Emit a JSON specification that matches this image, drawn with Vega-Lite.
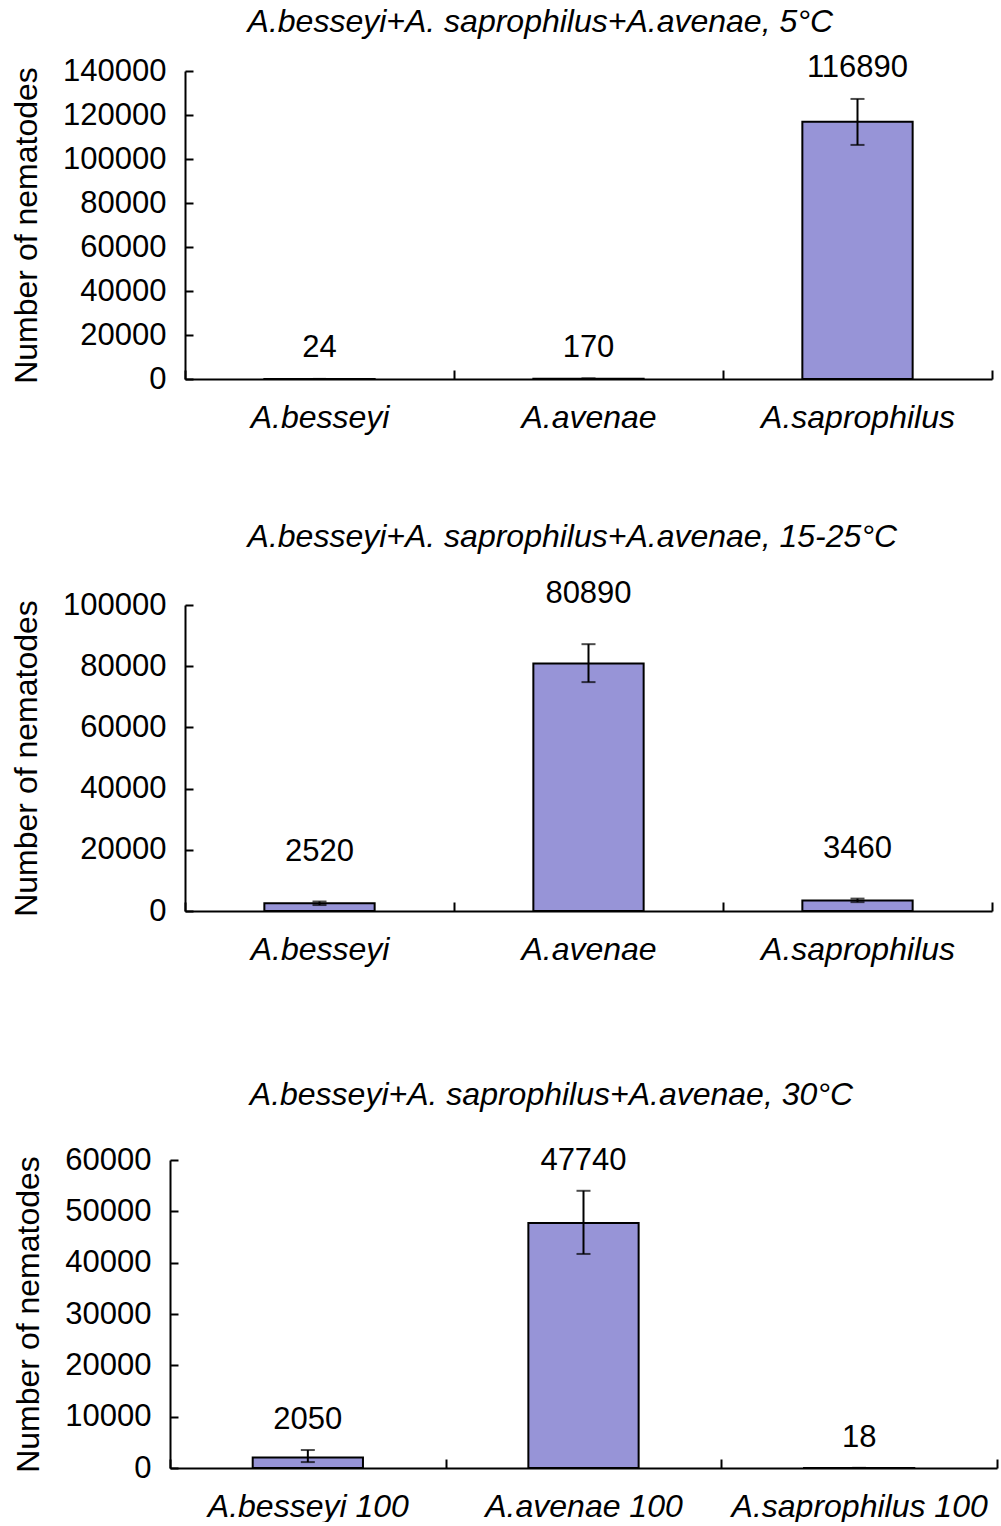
{
  "$schema": "https://vega.github.io/schema/vega-lite/v6.json",
  "background": "white",
  "padding": {"left": 10, "top": 5, "right": 2, "bottom": 0},
  "columns": 1,
  "align": "none",
  "spacing": 88,
  "datasets": {
    "t5": [
      {"species": "A.besseyi", "value": 24, "lo": 24, "hi": 24},
      {"species": "A.avenae", "value": 170, "lo": 170, "hi": 170},
      {"species": "A.saprophilus", "value": 116890, "lo": 106400, "hi": 127300}
    ],
    "t15": [
      {"species": "A.besseyi", "value": 2520, "lo": 1950, "hi": 3100},
      {"species": "A.avenae", "value": 80890, "lo": 74800, "hi": 87200},
      {"species": "A.saprophilus", "value": 3460, "lo": 2900, "hi": 4050}
    ],
    "t30": [
      {"species": "A.besseyi 100", "value": 2050, "lo": 1150, "hi": 3500},
      {"species": "A.avenae 100", "value": 47740, "lo": 41700, "hi": 54000},
      {"species": "A.saprophilus 100", "value": 18, "lo": 18, "hi": 18}
    ]
  },
  "concat": [
    {
      "data": {"name": "t5"},
      "width": 822,
      "height": 308,
      "title": {"text": "A.besseyi+A. saprophilus+A.avenae, 5°C", "offset": 13, "dx": 237},
      "encoding": {
        "x": {"field": "species", "type": "nominal", "sort": null, "scale": {"padding": 0, "range": [15, 822]}, "axis": {"title": null}}
      },
      "layer": [
        {
          "mark": {"type": "bar", "width": {"band": 0.41}, "fill": "#9794D7", "stroke": "black", "strokeWidth": 2},
          "encoding": {"y": {"field": "value", "type": "quantitative", "title": "Number of nematodes", "scale": {"domain": [0, 140000]}, "axis": {"values": [0, 20000, 40000, 60000, 80000, 100000, 120000, 140000], "format": "d", "offset": -15}}}
        },
        {
          "mark": {"type": "errorbar", "ticks": {"size": 14, "thickness": 2, "color": "black"}, "rule": {"strokeWidth": 2, "color": "black"}},
          "encoding": {"y": {"field": "lo", "type": "quantitative", "title": "Number of nematodes"}, "y2": {"field": "hi"}}
        },
        {
          "mark": {"type": "text", "fontSize": 31, "baseline": "middle", "dy": -31, "color": "black"},
          "encoding": {"y": {"field": "hi", "type": "quantitative", "title": "Number of nematodes"}, "text": {"field": "value", "type": "quantitative", "format": "d"}}
        }
      ]
    },
    {
      "data": {"name": "t15"},
      "width": 822,
      "height": 306,
      "title": {"text": "A.besseyi+A. saprophilus+A.avenae, 15-25°C", "offset": 24, "dx": 237},
      "encoding": {
        "x": {"field": "species", "type": "nominal", "sort": null, "scale": {"padding": 0, "range": [15, 822]}, "axis": {"title": " ", "titleFontSize": 10, "titlePadding": 16}}
      },
      "layer": [
        {
          "mark": {"type": "bar", "width": {"band": 0.41}, "fill": "#9794D7", "stroke": "black", "strokeWidth": 2},
          "encoding": {"y": {"field": "value", "type": "quantitative", "title": "Number of nematodes", "scale": {"domain": [0, 100000]}, "axis": {"values": [0, 20000, 40000, 60000, 80000, 100000], "format": "d", "offset": -15}}}
        },
        {
          "mark": {"type": "errorbar", "ticks": {"size": 14, "thickness": 2, "color": "black"}, "rule": {"strokeWidth": 2, "color": "black"}},
          "encoding": {"y": {"field": "lo", "type": "quantitative", "title": "Number of nematodes"}, "y2": {"field": "hi"}}
        },
        {
          "mark": {"type": "text", "fontSize": 31, "baseline": "middle", "dy": -50, "color": "black"},
          "encoding": {"y": {"field": "hi", "type": "quantitative", "title": "Number of nematodes"}, "text": {"field": "value", "type": "quantitative", "format": "d"}}
        }
      ]
    },
    {
      "data": {"name": "t30"},
      "width": 827,
      "height": 308,
      "title": {"text": "A.besseyi+A. saprophilus+A.avenae, 30°C", "offset": 32, "dx": 237},
      "encoding": {
        "x": {"field": "species", "type": "nominal", "sort": null, "scale": {"padding": 0}, "axis": {"title": null}}
      },
      "layer": [
        {
          "mark": {"type": "bar", "width": {"band": 0.4}, "fill": "#9794D7", "stroke": "black", "strokeWidth": 2},
          "encoding": {"y": {"field": "value", "type": "quantitative", "title": "Number of nematodes", "scale": {"domain": [0, 60000]}, "axis": {"values": [0, 10000, 20000, 30000, 40000, 50000, 60000], "format": "d"}}}
        },
        {
          "mark": {"type": "errorbar", "ticks": {"size": 14, "thickness": 2, "color": "black"}, "rule": {"strokeWidth": 2, "color": "black"}},
          "encoding": {"y": {"field": "lo", "type": "quantitative", "title": "Number of nematodes"}, "y2": {"field": "hi"}}
        },
        {
          "mark": {"type": "text", "fontSize": 31, "baseline": "middle", "dy": -30, "color": "black"},
          "encoding": {"y": {"field": "hi", "type": "quantitative", "title": "Number of nematodes"}, "text": {"field": "value", "type": "quantitative", "format": "d"}}
        }
      ]
    }
  ],
  "config": {
    "font": "Liberation Sans",
    "view": {"stroke": null},
    "axis": {"domainColor": "black", "domainWidth": 2, "tickColor": "black", "tickWidth": 2, "labelColor": "black", "titleColor": "black", "labelFontSize": 31, "titleFontSize": 32, "titleFontWeight": "normal", "grid": false, "labelLimit": 0},
    "axisX": {"tickBand": "extent", "tickSize": -9, "labelFontStyle": "italic", "labelFontSize": 32, "labelAngle": 0, "labelPadding": 32},
    "axisY": {"tickSize": -8, "labelPadding": 27, "titlePadding": 19},
    "title": {"fontSize": 32, "fontStyle": "italic", "fontWeight": "normal", "anchor": "start", "frame": "bounds", "color": "black"}
  }
}
